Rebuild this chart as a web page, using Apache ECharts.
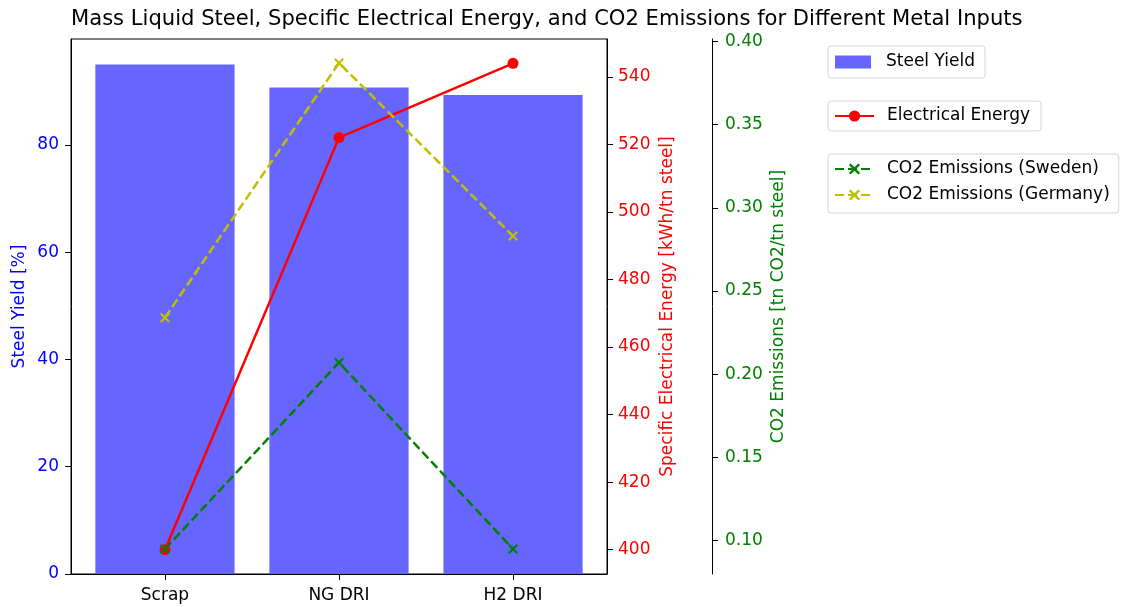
<!DOCTYPE html>
<html>
<head>
<meta charset="utf-8">
<script src="https://cdn.jsdelivr.net/npm/echarts@6/dist/echarts.min.js"></script>
<style>html,body{margin:0;padding:0;background:#fff}#c{width:1123px;height:607px}</style>
</head>
<body>
<div id="c"></div>
<script>
const categories = ['Scrap', 'NG DRI', 'H2 DRI'];
const steelYield = [95.0, 90.7, 89.3];
const electricalEnergy = [400, 522, 544];
const co2Sweden = [0.095, 0.207, 0.095];
const co2Germany = [0.234, 0.387, 0.283];
const yieldTicks = [0, 20, 40, 60, 80];
const energyTicks = [400, 420, 440, 460, 480, 500, 520, 540];
const co2Ticks = [0.10, 0.15, 0.20, 0.25, 0.30, 0.35, 0.40];

const FONT = 'DejaVu Sans';
const FS = 17;
const G = {left: 71, right: 516, top: 39, bottom: 33};
const xMin = -0.54, xMax = 2.54;
const gridW = 1123 - G.left - G.right;
const barW = gridW / (xMax - xMin) * 0.8;

const pts = arr => arr.map((v, i) => [i, v]);
const X = 'path://M1.5,0L5,3.5L8.5,0L10,1.5L6.5,5L10,8.5L8.5,10L5,6.5L1.5,10L0,8.5L3.5,5L0,1.5Z';

const legendBase = {
  orient: 'vertical', borderColor: '#d5d5d5', borderWidth: 1, borderRadius: 3,
  itemHeight: 14
};
const legendText = pad => ({fontFamily: FONT, fontSize: FS, color: '#000', lineHeight: 20, padding: [0, 0, 0, pad]});

const tick = vals => ({show: true, length: 6, lineStyle: {color: '#000'}, customValues: vals});

const chart = echarts.init(document.getElementById('c'));
chart.setOption({
  backgroundColor: '#fff',
  animation: false,
  textStyle: {fontFamily: FONT},
  title: {
    text: 'Mass Liquid Steel, Specific Electrical Energy, and CO2 Emissions for Different Metal Inputs',
    left: 71, top: 9, padding: 0,
    textStyle: {fontFamily: FONT, fontSize: 21.1, fontWeight: 'normal', color: '#000'}
  },
  grid: {left: G.left, right: G.right, top: G.top, bottom: G.bottom, show: true, borderColor: '#000', borderWidth: 1, backgroundColor: 'transparent'},
  legend: [
    Object.assign({}, legendBase, {data: [{name: 'Steel Yield', icon: 'rect'}], left: 828, top: 46, padding: [6, 10, 6, 7],
      itemWidth: 36, itemHeight: 13, textStyle: legendText(10)}),
    Object.assign({}, legendBase, {data: ['Electrical Energy'], left: 828, top: 101, padding: [5, 11, 5, 6],
      itemWidth: 39, textStyle: legendText(8)}),
    Object.assign({}, legendBase, {data: ['CO2 Emissions (Sweden)', 'CO2 Emissions (Germany)'], left: 828, top: 154, padding: [5, 9, 8, 6],
      itemWidth: 39, itemGap: 6, textStyle: legendText(8)})
  ],
  xAxis: {
    type: 'value', min: xMin, max: xMax,
    axisLine: {onZero: false, lineStyle: {color: '#000', width: 1}},
    axisTick: tick([0, 1, 2]),
    axisLabel: {customValues: [0, 1, 2], formatter: v => categories[Math.round(v)], color: '#000', fontSize: FS, fontFamily: FONT, margin: 13},
    splitLine: {show: false}
  },
  yAxis: [
    {
      type: 'value', position: 'left', min: 0, max: 99.75,
      name: 'Steel Yield [%]', nameLocation: 'middle', nameGap: 43, nameRotate: 90,
      nameTextStyle: {color: '#0000ff', fontSize: FS, fontFamily: FONT},
      axisLine: {show: true, onZero: false, lineStyle: {color: '#000'}},
      axisTick: tick(yieldTicks),
      axisLabel: {customValues: yieldTicks, color: '#0000ff', fontSize: FS, fontFamily: FONT, margin: 12},
      splitLine: {show: false}
    },
    {
      type: 'value', position: 'right', min: 392.8, max: 551.2,
      name: 'Specific Electrical Energy [kWh/tn steel]', nameLocation: 'middle', nameGap: 52, nameRotate: 90,
      nameTextStyle: {color: '#ff0000', fontSize: FS, fontFamily: FONT},
      axisLine: {show: true, onZero: false, lineStyle: {color: '#000'}},
      axisTick: tick(energyTicks),
      axisLabel: {customValues: energyTicks, color: '#ff0000', fontSize: FS, fontFamily: FONT, margin: 11},
      splitLine: {show: false}
    },
    {
      type: 'value', position: 'right', offset: 105, min: 0.0800, max: 0.4014,
      name: 'CO2 Emissions [tn CO2/tn steel]', nameLocation: 'middle', nameGap: 58, nameRotate: 90,
      nameTextStyle: {color: '#008000', fontSize: FS, fontFamily: FONT},
      axisLine: {show: true, onZero: false, lineStyle: {color: '#000'}},
      axisTick: tick(co2Ticks),
      axisLabel: {customValues: co2Ticks, formatter: v => v.toFixed(2), color: '#008000', fontSize: FS, fontFamily: FONT, margin: 13},
      splitLine: {show: false}
    }
  ],
  series: [
    {
      name: 'Steel Yield', type: 'bar', yAxisIndex: 0, data: pts(steelYield), barWidth: barW,
      itemStyle: {color: '#6666ff'}, z: 1
    },
    {
      name: 'Electrical Energy', type: 'line', yAxisIndex: 1, data: pts(electricalEnergy),
      symbol: 'circle', symbolSize: 11, showAllSymbol: true,
      lineStyle: {color: '#ff0000', width: 2.5}, itemStyle: {color: '#ff0000'}, z: 2
    },
    {
      name: 'CO2 Emissions (Sweden)', type: 'line', yAxisIndex: 2, data: pts(co2Sweden),
      symbol: X, symbolSize: 10, showAllSymbol: true,
      lineStyle: {color: '#008000', width: 2.5, type: [9, 4]}, itemStyle: {color: '#008000'}, z: 3
    },
    {
      name: 'CO2 Emissions (Germany)', type: 'line', yAxisIndex: 2, data: pts(co2Germany),
      symbol: X, symbolSize: 10, showAllSymbol: true,
      lineStyle: {color: '#bfbf00', width: 2.5, type: [9, 4]}, itemStyle: {color: '#bfbf00'}, z: 4
    }
  ]
});
</script>
</body>
</html>
